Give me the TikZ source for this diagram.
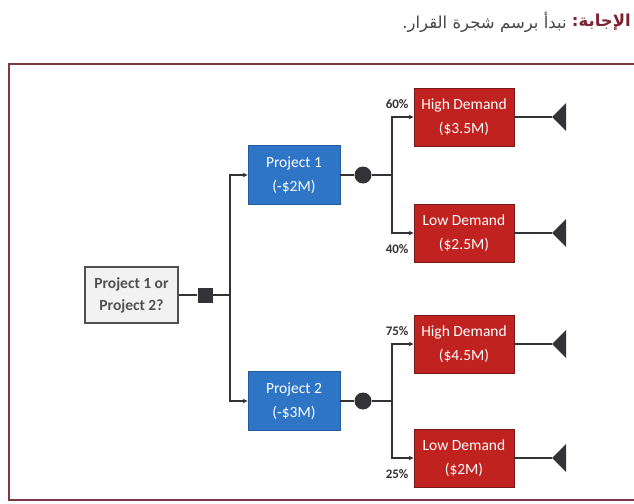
\documentclass[tikz,border=0pt]{standalone}
\usepackage{fontspec}
\setmainfont{Carlito}
\newfontfamily\arabicfont[Script=Arabic]{DejaVu Sans}
\TeXXeTstate=1
\usetikzlibrary{arrows.meta, positioning}

\definecolor{projblue}{RGB}{47,117,197}
\definecolor{projblueline}{RGB}{36,90,160}
\definecolor{demandred}{RGB}{192,34,31}
\definecolor{demandredline}{RGB}{120,24,22}
\definecolor{qfill}{RGB}{242,242,242}
\definecolor{qline}{RGB}{80,80,80}
\definecolor{linegray}{RGB}{50,50,55}
\definecolor{framered}{RGB}{125,58,70}
\definecolor{answerred}{RGB}{125,34,50}
\definecolor{headgray}{RGB}{70,70,70}

\begin{document}
\begin{tikzpicture}[
    x=1pt, y=-1pt,
    >={Stealth[length=5pt, width=4.5pt]},
    on grid,
    link/.style={draw=linegray, line width=1.7pt},
    question/.style={rectangle, draw=qline, line width=1.2pt, fill=qfill,
        minimum width=93pt, minimum height=56pt, align=center,
        text=qline, font=\fontsize{15.5}{22}\selectfont\bfseries},
    project/.style={rectangle, draw=projblueline, line width=0.8pt, fill=projblue,
        minimum width=92pt, minimum height=59pt, align=center,
        text=white, font=\fontsize{15.5}{24}\selectfont},
    demand/.style={rectangle, draw=demandredline, line width=0.8pt, fill=demandred,
        minimum width=100pt, minimum height=58pt, align=center,
        text=white, font=\fontsize{15.5}{24}\selectfont},
    choice/.style={rectangle, fill=linegray, minimum size=15pt, inner sep=0pt},
    chance/.style={circle, fill=linegray, minimum size=17pt, inner sep=0pt},
    pct/.style={inner sep=0pt, text=linegray, font=\fontsize{13}{13}\selectfont\bfseries},
    heading/.style={inner sep=0pt, font=\arabicfont\fontsize{16.5}{18}\selectfont},
]

    \useasboundingbox (0,0) rectangle (634,503);

    % heading and frame
    \node[heading, anchor=east, text=answerred] (headword) at (631,22)
        {\bfseries\beginR الإجابة:\endR};
    \node[heading, anchor=east, text=headgray, left=5pt of headword.west] (headtext)
        {\beginR نبدأ برسم شجرة القرار.\endR};
    \draw[framered, line width=2.5pt] (636,64) -- (9,64) -- (9,500) -- (636,500);

    % decision
    \node[question]                                    (dec) at (131.5,295) {Project 1 or\\Project 2?};
    \node[choice,  right=73.5pt of dec]                (sq)  {};
    \coordinate[right=25pt of sq]                      (fork);
    \node[project, above right=120pt and 162.5pt of dec] (p1) {Project 1\\(-\$2M)};
    \node[project, below right=106pt and 162.5pt of dec] (p2) {Project 2\\(-\$3M)};

    % chances
    \node[chance, right=69pt of p1] (c1) {};
    \node[chance, right=69pt of p2] (c2) {};
    \coordinate[right=29pt of c1] (fork1);
    \coordinate[right=29pt of c2] (fork2);

    \node[demand, above right=58pt and 101pt of c1] (h1) {High Demand\\(\$3.5M)};
    \node[demand, below right=58pt and 101pt of c1] (l1) {Low Demand\\(\$2.5M)};
    \node[demand, above right=57pt and 101pt of c2] (h2) {High Demand\\(\$4.5M)};
    \node[demand, below right=57pt and 101pt of c2] (l2) {Low Demand\\(\$2M)};

    % ends
    \coordinate[right=88pt of h1] (e1);
    \coordinate[right=88pt of l1] (e2);
    \coordinate[right=88pt of h2] (e3);
    \coordinate[right=88pt of l2] (e4);

    % probabilities
    \node[pct, anchor=east] (q60) at ([xshift=-5pt, yshift=13pt]h1.west)  {60\%};
    \node[pct, anchor=east] (q40) at ([xshift=-5pt, yshift=-16pt]l1.west) {40\%};
    \node[pct, anchor=east] (q75) at ([xshift=-5pt, yshift=13pt]h2.west)  {75\%};
    \node[pct, anchor=east] (q25) at ([xshift=-5pt, yshift=-16pt]l2.west) {25\%};

    \path[link]
        (dec) -- (sq)
        (sq) -- (fork)
        (p1) -- (c1)
        (c1) -- (fork1)
        (p2) -- (c2)
        (c2) -- (fork2)
        (h1) -- (e1)
        (l1) -- (e2)
        (h2) -- (e3)
        (l2) -- (e4)
    ;
    \foreach \from/\to in {fork/p1, fork/p2, fork1/h1, fork1/l1, fork2/h2, fork2/l2}
        \draw[link, ->] (\from) |- (\to);

    \foreach \e in {e1, e2, e3, e4}
        \fill[linegray] (\e) -- ++(14,-14) -- ++(0,28) -- cycle;

\end{tikzpicture}
\end{document}
